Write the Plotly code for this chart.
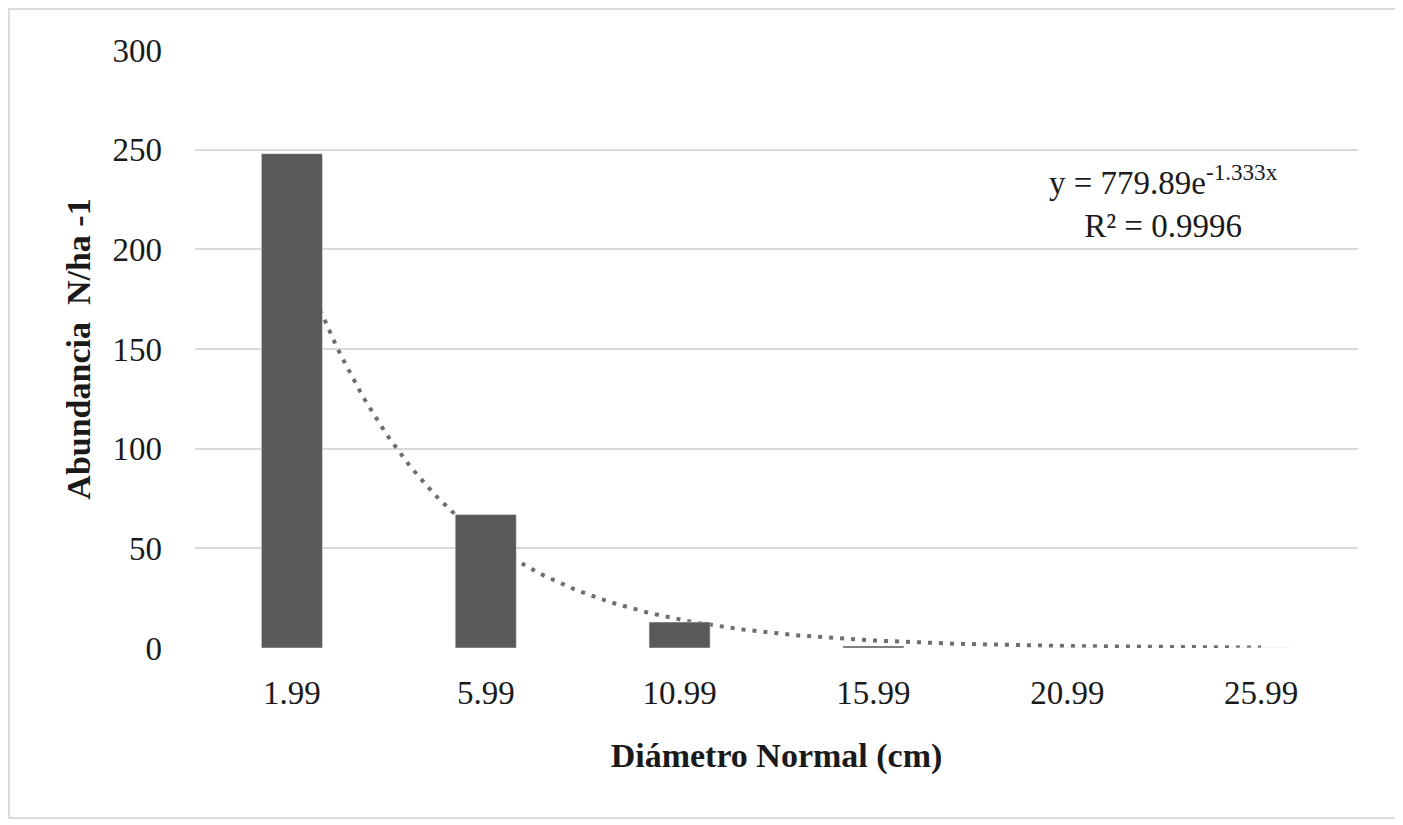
import numpy as np
import plotly.graph_objects as go

# =============================================================================
# Data
# =============================================================================
diametros = ["1.99", "5.99", "10.99", "15.99", "20.99", "25.99"]
abundancia = [248, 67, 13, 1, 0, 0]

# exponential trendline shown on the chart: y = a * e^(b x)
trend_a = 779.89
trend_b = -1.333

fnt = "Liberation Serif"
idx = list(range(len(diametros)))

# trendline over category index 1..6 (bars sit on top of it)
xs = np.linspace(0, len(diametros) - 1, 200)
ys = trend_a * np.exp(trend_b * (xs + 1))

fig = go.Figure()
fig.add_scatter(x=xs, y=ys, mode="lines",
                line=dict(color="#6e6e6e", width=4, dash="4px,7px"),
                showlegend=False, hoverinfo="skip")
fig.add_bar(x=diametros, y=abundancia, xaxis="x2", marker_color="#595959",
            showlegend=False)

fig.update_layout(
    width=1403, height=825,
    paper_bgcolor="white", plot_bgcolor="white",
    margin=dict(l=187, r=53, t=42, b=185),
    bargap=0.685,
    font=dict(family=fnt, size=33, color="#1a1a1a"),
    xaxis=dict(range=[-0.5, len(diametros) - 0.5], tickvals=idx,
               ticktext=diametros, showgrid=False, showline=False,
               zeroline=False, ticks="", tickfont=dict(size=33),
               ticklabelstandoff=22,
               title=dict(text="<b>Diámetro Normal (cm)</b>",
                          font=dict(size=34, color="#1a1a1a"), standoff=33)),
    xaxis2=dict(type="category", overlaying="x", visible=False),
    yaxis=dict(range=[0, 300], dtick=50, showgrid=True,
               gridcolor="#d9d9d9", gridwidth=1.5, zeroline=False,
               showline=False, ticks="", tickfont=dict(size=33),
               ticklabelstandoff=32,
               title=dict(text="<b>Abundancia  N/ha -1</b>",
                          font=dict(size=34, color="#1a1a1a"), standoff=11)),
    shapes=[dict(type="rect", xref="paper", yref="paper",
                 x0=-0.1599, x1=1.0335, y0=-0.2843, y1=1.0686,
                 line=dict(color="#d0d0d0", width=1.5), layer="below")],
    annotations=[dict(xref="paper", yref="paper", x=0.833, y=0.746,
                      xanchor="center", yanchor="middle",
                      showarrow=False, align="center",
                      text="y = 779.89e<sup>-1.333x</sup><br>R² = 0.9996",
                      font=dict(size=33, color="#1a1a1a"))],
)

fig.write_html("out.html")
